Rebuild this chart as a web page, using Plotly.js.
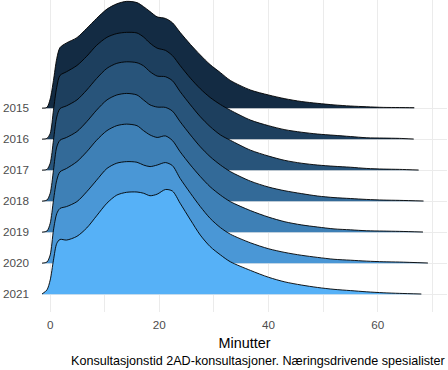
<!DOCTYPE html>
<html><head><meta charset="utf-8">
<script src="https://cdn.plot.ly/plotly-3.0.1.min.js"></script>
<style>html,body{margin:0;padding:0;background:#fff;}#chart{width:448px;height:370px;}</style>
</head><body><div id="chart"></div>
<script>
const years = ['2015','2016','2017','2018','2019','2020','2021'];
const minutes = [-1.5,-0.6,0,0.6,1.2,1.8,3,4.9,6.7,8.5,10.4,12.2,14,15.9,17.1,18.3,19.6,21.1,22.4,23.8,25.7,27.5,29.3,31.2,33,36.7,40,43,46,49,52,55,58,61,64];
const d2015 = [0.005,0.03,0.3,0.9,1.6,1.96,2.11,2.28,2.58,2.9,3.2,3.37,3.45,3.41,3.28,3.12,2.95,2.9,2.76,2.45,2.06,1.72,1.41,1.15,0.9,0.59,0.43,0.31,0.22,0.16,0.11,0.074,0.05,0.03,0.025];
const d2016 = [0.005,0.03,0.19,0.94,1.68,2.06,2.18,2.38,2.68,3.03,3.29,3.41,3.45,3.43,3.3,3.1,2.94,2.87,2.7,2.38,1.97,1.63,1.35,1.12,0.94,0.62,0.44,0.31,0.23,0.17,0.13,0.09,0.05,0.04,0.03];
const d2017 = [0.005,0.03,0.23,0.97,1.72,1.99,2.08,2.27,2.59,2.96,3.29,3.45,3.5,3.47,3.37,3.18,3.04,3.02,2.89,2.54,2.11,1.73,1.41,1.14,0.97,0.65,0.46,0.32,0.23,0.17,0.13,0.1,0.06,0.04,0.03];
const d2018 = [0.005,0.04,0.26,1.0,1.75,1.97,2.06,2.25,2.57,2.94,3.27,3.43,3.48,3.43,3.27,3.11,3.04,3.03,2.91,2.57,2.14,1.76,1.44,1.17,0.96,0.65,0.46,0.34,0.25,0.17,0.12,0.09,0.06,0.04,0.03];
const d2019 = [0.005,0.04,0.29,1.03,1.68,1.95,2.06,2.28,2.6,2.97,3.28,3.44,3.49,3.44,3.28,3.14,3.06,3.11,2.96,2.6,2.17,1.8,1.47,1.2,0.99,0.7,0.49,0.34,0.24,0.17,0.11,0.08,0.05,0.04,0.03];
const d2020 = [0.005,0.04,0.27,1.07,1.6,1.77,1.83,1.99,2.31,2.68,3.06,3.23,3.28,3.26,3.17,3.12,3.17,3.25,3.15,2.74,2.26,1.83,1.45,1.15,0.94,0.66,0.47,0.35,0.26,0.19,0.13,0.1,0.07,0.05,0.04];
const d2021 = [0.01,0.14,0.46,1.1,1.64,1.77,1.75,1.87,2.14,2.53,2.94,3.2,3.29,3.3,3.26,3.18,3.23,3.38,3.33,2.94,2.4,1.91,1.54,1.27,1.05,0.77,0.55,0.4,0.3,0.22,0.16,0.12,0.08,0.05,0.03];
const endMinutes = [66.7,66.6,67.5,68.4,68.3,69.2,68.0];
const endDensity = [0.02,0.01,0.01,0.01,0.01,0.01,0.01];
const fills = ['#132B43','#1D3F5E','#28547A','#336A98','#3E80B6','#4A97D6','#56B1F7'];
const xTickVals = [0,10,20,30,40,50,60,70];
const xTickText = ['0','','20','','40','','60',''];
const densities = [d2015,d2016,d2017,d2018,d2019,d2020,d2021];

const traces = [];
years.forEach((yr, i) => {
  const base = years.length - 1 - i;
  const xs = minutes.concat([endMinutes[i]]);
  const top = densities[i].concat([endDensity[i]]).map(v => base + v);
  traces.push({x: xs, y: xs.map(() => base), type: 'scatter', mode: 'lines',
    line: {width: 0, color: 'rgba(0,0,0,0)'}, hoverinfo: 'skip', showlegend: false});
  traces.push({x: xs, y: top, type: 'scatter', mode: 'lines', fill: 'tonexty',
    fillcolor: fills[i], line: {color: '#000', width: 0.9, shape: 'spline', smoothing: 0.8},
    hoverinfo: 'skip', showlegend: false, name: yr});
});

const font = 'Liberation Sans, Arial, sans-serif';
const layout = {
  width: 448, height: 370,
  margin: {l: 42, r: 1, t: 0, b: 58},
  paper_bgcolor: '#fff', plot_bgcolor: '#fff',
  font: {family: font},
  showlegend: false,
  xaxis: {range: [-1.5, 72.7], tickvals: xTickVals, ticktext: xTickText,
    showgrid: true, gridcolor: '#EBEBEB', gridwidth: 1, zeroline: false, showline: false,
    ticks: '', ticklabelstandoff: 4, tickfont: {size: 11.7, color: '#4D4D4D', family: font},
    title: {text: 'Minutter', font: {size: 14.4, color: '#000', family: font}, standoff: 8}},
  yaxis: {range: [-0.571, 9.494], tickvals: years.map((y, i) => years.length - 1 - i), ticktext: years,
    showgrid: true, gridcolor: '#EBEBEB', gridwidth: 1, zeroline: false, showline: false,
    ticks: '', ticklabelstandoff: 12, tickfont: {size: 11.7, color: '#4D4D4D', family: font}},
  annotations: [{text: 'Konsultasjonstid 2AD-konsultasjoner. Næringsdrivende spesialister',
    xref: 'paper', yref: 'paper', x: 1, y: -0.157, xanchor: 'right', yanchor: 'middle',
    showarrow: false, font: {size: 12.6, color: '#000', family: font}}]
};
Plotly.newPlot('chart', traces, layout, {staticPlot: true, displayModeBar: false});
</script></body></html>
